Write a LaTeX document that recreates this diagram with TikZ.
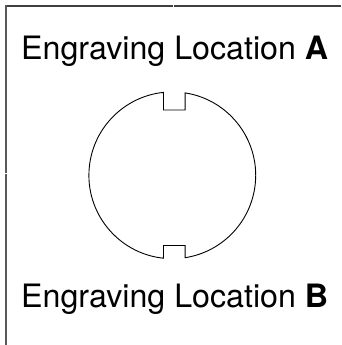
\documentclass[tikz,border=0pt]{standalone}
\usepackage{fontspec}
\setmainfont{TeX Gyre Heros}
\usetikzlibrary{positioning}
\tikzset{label text/.style={font=\fontsize{32.2}{36}\selectfont, inner sep=0pt, text=black},
  frame line/.style={draw=black!75, line width=1.5pt},
  frame side/.style={draw=black!65, line width=2.2pt},
  lock line/.style={draw=black, line width=0.9pt, line join=miter}}
\begin{document}
\begin{tikzpicture}[x=1pt,y=1pt]
  \useasboundingbox (0,0) rectangle (341,345);
  \fill[white] (0,0) rectangle (341,345);
  % frame
  \draw[frame line] (5,339.2) -- (173,339.2);
  \draw[frame line] (174.2,339.2) -- (341,339.2);
  \draw[frame side] (6,340) -- (6,171.7);
  \draw[frame side] (6,170.5) -- (6,0);
  % labels
  \node[label text, anchor=base west] (locA) at (21,285) {Engraving Location \textbf{A}};
  \node[label text, anchor=base west] (locB) at (21,37.3) {Engraving Location \textbf{B}};
  % circle with the two notches
  \coordinate (centre) at (172.3,169.7);
  \draw[lock line] ([shift={(81.2:83.4)}]centre)
    arc[start angle=81.2, end angle=-81.2, radius=83.4]
    -- (185.06,99.5) -- (163.5,99.5) -- ([shift={(-96.1:83.4)}]centre)
    arc[start angle=-96.1, end angle=-263.9, radius=83.4]
    -- (163.5,235) -- (185.06,235) -- cycle;
\end{tikzpicture}
\end{document}
